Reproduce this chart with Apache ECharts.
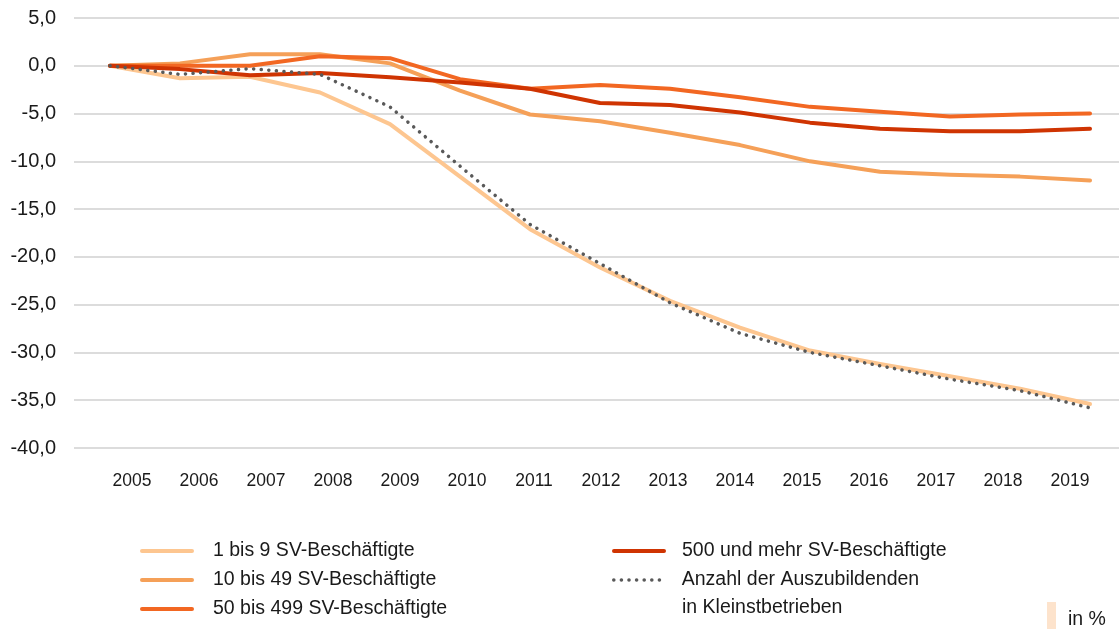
<!DOCTYPE html>
<html>
<head>
<meta charset="utf-8">
<script src="https://cdn.jsdelivr.net/npm/echarts@6/dist/echarts.min.js"></script>
<style>
  html, body { margin: 0; padding: 0; background: #fff; }
  #main { width: 1119px; height: 629px; }
</style>
</head>
<body>
<div id="main"></div>
<script>
// Jahre (x-Achse)
const years = ["2005", "2006", "2007", "2008", "2009", "2010", "2011", "2012",
  "2013", "2014", "2015", "2016", "2017", "2018", "2019"];
const yTicks = [-40, -35, -30, -25, -20, -15, -10, -5, 0, 5];

// Veränderung gegenüber 2005 in %
const s1bis9 = [0, -1.3, -1.15, -2.8, -6.1, -11.6, -17.1, -21.1, -24.6, -27.4, -29.8, -31.2, -32.5, -33.8, -35.4];
const s10bis49 = [0, 0.25, 1.2, 1.2, 0.25, -2.6, -5.1, -5.8, -7.0, -8.3, -10.0, -11.1, -11.4, -11.6, -12.0];
const s50bis499 = [0, 0, 0, 1.0, 0.8, -1.4, -2.4, -2.0, -2.4, -3.3, -4.3, -4.8, -5.3, -5.1, -5.0];
const s500mehr = [0, -0.35, -1.0, -0.75, -1.2, -1.75, -2.4, -3.9, -4.1, -4.9, -5.95, -6.6, -6.85, -6.85, -6.6];
const azubisKlein = [0, -0.9, -0.3, -0.9, -4.3, -10.5, -16.6, -20.7, -24.8, -28.0, -30.0, -31.4, -32.8, -34.0, -35.8];

const names = [
  "1 bis 9 SV-Beschäftigte",
  "10 bis 49 SV-Beschäftigte",
  "50 bis 499 SV-Beschäftigte",
  "500 und mehr SV-Beschäftigte",
  "Anzahl der Auszubildenden\nin Kleinstbetrieben",
];

const FONT = "'Liberation Sans', Arial, sans-serif";
const pairs = (arr) => arr.map((v, i) => [Number(years[i]), v]);

const chart = echarts.init(document.getElementById("main"));

function lineSeries(name, data, color) {
  return {
    name: name,
    type: "line",
    xAxisIndex: 0,
    yAxisIndex: 0,
    data: pairs(data),
    symbol: "none",
    lineStyle: { color: color, width: 4, cap: "round", join: "round" },
    itemStyle: { color: color },
    animation: false,
  };
}

// eine Legende pro Eintrag, damit die Position genau passt
function legendItem(name, left, iconY, padLeft) {
  return {
    left: left,
    top: iconY - 14.5,
    padding: 0,
    icon: "inherit",
    itemWidth: 50,
    itemHeight: 14,
    data: [name],
    lineStyle: { width: "inherit" },
    itemStyle: { opacity: 0 },
    formatter: (n) => n.split("\n")[0],
    textStyle: {
      fontFamily: FONT, fontSize: 19.5, color: "#1a1a1a", lineHeight: 29,
      padding: [0, 0, 0, padLeft],
    },
  };
}

let option = {
  backgroundColor: "#fff",
  animation: false,
  grid: [
    { left: 74, right: 0, top: 18, bottom: 181 },
    // nur für die Jahresbeschriftung
    { left: 98.5, width: 1005, top: 18, bottom: 181 },
  ],
  xAxis: [
    {
      type: "value",
      gridIndex: 0,
      min: 2004.486,
      max: 2019.414,
      axisLine: { show: false },
      axisTick: { show: false },
      axisLabel: { show: false },
      splitLine: { show: false },
    },
    {
      type: "category",
      gridIndex: 1,
      data: years,
      boundaryGap: true,
      axisLine: { show: false },
      axisTick: { show: false },
      splitLine: { show: false },
      axisLabel: { fontFamily: FONT, fontSize: 17.5, color: "#1a1a1a", margin: 24 },
    },
  ],
  yAxis: [
    {
      type: "value",
      gridIndex: 0,
      min: yTicks[0],
      max: yTicks[yTicks.length - 1],
      interval: 5,
      axisLine: { show: false },
      axisTick: { show: false },
      splitLine: { lineStyle: { color: "#dcdcdc", width: 2 } },
      axisLabel: {
        fontFamily: FONT,
        fontSize: 20,
        color: "#1a1a1a",
        margin: 18,
        formatter: (v) => v.toFixed(1).replace(".", ","),
      },
    },
    {
      type: "value",
      gridIndex: 1,
      min: -40,
      max: 5,
      show: false,
    },
  ],
  legend: [
    legendItem(names[0], 140, 551, 16),
    legendItem(names[1], 140, 580, 16),
    legendItem(names[2], 140, 609, 16),
    legendItem(names[3], 612, 551, 13),
    legendItem(names[4], 612, 580, 13),
  ],
  graphic: [
    {
      // zweite Zeile des letzten Legendeneintrags
      type: "text",
      left: 682,
      top: 598,
      style: { text: names[4].split("\n")[1], font: "19.5px " + FONT, fill: "#1a1a1a" },
    },
    {
      type: "rect",
      left: 1047,
      top: 602,
      shape: { width: 9, height: 27 },
      style: { fill: "#fde3cc" },
    },
    {
      type: "text",
      left: 1068,
      top: 610,
      style: { text: "in %", font: "19.5px " + FONT, fill: "#1a1a1a" },
    },
  ],
  series: [
    lineSeries(names[0], s1bis9, "#fdc690"),
    lineSeries(names[1], s10bis49, "#f5a058"),
    lineSeries(names[2], s50bis499, "#f26722"),
    lineSeries(names[3], s500mehr, "#cf3402"),
    {
      name: names[4],
      type: "line",
      xAxisIndex: 0,
      yAxisIndex: 0,
      data: pairs(azubisKlein),
      symbol: "none",
      lineStyle: { color: "#595959", width: 3.5, type: [0.1, 7.5], cap: "round" },
      itemStyle: { color: "#595959" },
      animation: false,
    },
  ],
};

chart.setOption(option);
</script>
</body>
</html>
